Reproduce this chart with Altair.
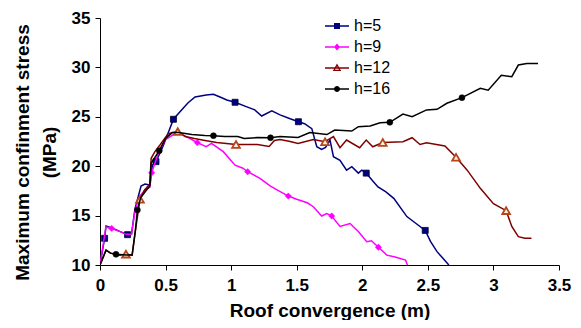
import altair as alt
import pandas as pd

series_names = ["h=5", "h=9", "h=12", "h=16"]
line_colors = ["#000080", "#FF00FF", "#800000", "#000000"]

# h=5
x5 = [0, 0.035, 0.046, 0.1, 0.15, 0.21, 0.24, 0.267, 0.313, 0.343, 0.38, 0.40, 0.427, 0.483, 0.56, 0.61, 0.67,
      0.725, 0.81, 0.865, 0.915, 0.967, 1.03, 1.12, 1.18, 1.233, 1.31, 1.373, 1.45, 1.513, 1.56, 1.615, 1.653,
      1.69, 1.72, 1.754, 1.78, 1.83, 1.88, 1.92, 1.97, 1.996, 2.03, 2.08, 2.12, 2.18, 2.24, 2.34, 2.41, 2.48,
      2.52, 2.57, 2.62, 2.66]
y5 = [10, 12.7, 13.95, 13.7, 13.4, 13.07, 13.1, 15.7, 18.0, 18.2, 18.1, 20.1, 20.46, 22.1, 24.75, 25.5, 26.4,
      27.0, 27.2, 27.28, 27.0, 26.7, 26.47, 26.0, 25.7, 25.08, 25.6, 25.2, 24.8, 24.5, 24.3, 23.8, 21.98,
      21.7, 21.9, 22.65, 20.96, 20.6, 19.6, 19.95, 19.3, 19.6, 19.3, 18.5, 17.9, 17.4, 16.75, 14.9, 14.2, 13.5,
      12.4, 11.35, 10.6, 10]
mx5 = [0.035, 0.21, 0.427, 0.56, 1.03, 1.513, 2.03, 2.48]
my5 = [12.7, 13.07, 20.46, 24.75, 26.47, 24.5, 19.3, 13.5]

# h=9
x9 = [0, 0.045, 0.089, 0.15, 0.2, 0.24, 0.267, 0.3, 0.343, 0.38, 0.394, 0.45, 0.5, 0.56, 0.61, 0.686, 0.742,
      0.81, 0.85, 0.94, 1.03, 1.09, 1.126, 1.22, 1.297, 1.35, 1.436, 1.5, 1.58, 1.627, 1.69, 1.73, 1.767,
      1.83, 1.907, 1.97, 2.034, 2.07, 2.123, 2.187, 2.25, 2.33, 2.344]
y9 = [10, 13.85, 13.7, 13.4, 13.1, 13.1, 15.5, 16.9, 17.6, 17.86, 19.34, 21.5, 22.7, 23.2, 23.3, 22.8, 22.38,
      21.97, 22.3, 21.47, 20.1, 19.8, 19.44, 18.77, 18.0, 17.6, 16.98, 16.65, 16.3, 15.9, 14.96, 15.2, 14.96,
      13.9, 14.2, 13.4, 12.36, 12.46, 11.8, 11.0, 10.8, 10.5, 10]
mx9 = [0.089, 0.394, 0.742, 1.126, 1.436, 1.767, 2.123]
my9 = [13.7, 19.34, 22.38, 19.44, 16.98, 14.96, 11.8]

# h=12
x12 = [0, 0.046, 0.08, 0.15, 0.198, 0.245, 0.27, 0.305, 0.34, 0.38, 0.39, 0.42, 0.46, 0.52, 0.593, 0.65,
       0.72, 0.8, 0.89, 1.037, 1.2, 1.29, 1.33, 1.373, 1.45, 1.51, 1.627, 1.716, 1.78, 1.83, 1.88, 1.98, 2.03,
       2.08, 2.156, 2.31, 2.38, 2.44, 2.49, 2.63, 2.715, 2.80, 2.90, 3.0, 3.097, 3.14, 3.19, 3.24, 3.29]
y12 = [10, 11.5, 11.2, 11.0, 11.1, 11.0, 13.5, 16.65, 17.6, 18.2, 20.8, 21.5, 22.2, 23.3, 23.5, 23.0,
       22.8, 22.6, 22.4, 22.2, 22.2, 22.0, 22.6, 22.7, 22.5, 22.3, 22.7, 22.48, 23.0, 21.87, 22.65, 21.87, 22.65,
       21.97, 22.4, 22.48, 22.88, 22.2, 22.38, 22.04, 20.9, 19.6, 17.76, 16.2, 15.5, 13.9, 12.87, 12.7, 12.7]
mx12 = [0.198, 0.305, 0.593, 1.037, 1.716, 2.156, 2.715, 3.097]
my12 = [11.1, 16.65, 23.5, 22.2, 22.48, 22.4, 20.9, 15.5]

# h=16
x16 = [0, 0.046, 0.08, 0.122, 0.2, 0.245, 0.27, 0.285, 0.31, 0.35, 0.38, 0.39, 0.452, 0.5, 0.55, 0.6, 0.7,
       0.8, 0.865, 0.95, 1.05, 1.1, 1.2, 1.30, 1.373, 1.51, 1.60, 1.73, 1.79, 1.92, 1.97, 2.06, 2.136, 2.21,
       2.31, 2.38, 2.49, 2.57, 2.645, 2.76, 2.9, 2.96, 3.06, 3.14, 3.19, 3.255, 3.34]
y16 = [10, 11.5, 11.2, 11.08, 11.0, 11.0, 13.5, 15.57, 16.8, 17.5, 18.0, 20.3, 21.57, 22.8, 23.4, 23.4, 23.2,
       23.1, 23.09, 23.0, 23.0, 22.8, 22.9, 22.88, 23.0, 22.9, 23.4, 23.2, 23.66, 23.56, 24.0, 24.07, 24.4, 24.44,
       25.28, 25.0, 25.7, 25.76, 26.37, 26.94, 27.88, 27.7, 29.2, 29.06, 30.24, 30.4, 30.4]
mx16 = [0.122, 0.285, 0.452, 0.865, 1.30, 2.21, 2.76]
my16 = [11.08, 15.57, 21.57, 23.09, 22.88, 24.44, 26.94]

x_ticks = [0, 0.5, 1, 1.5, 2, 2.5, 3, 3.5]
y_ticks = [10, 15, 20, 25, 30, 35]

FONT = "Liberation Sans"

xaxis = alt.Axis(values=x_ticks, format="~g", grid=False, domainColor="black", tickColor="black",
                 tickSize=5, labelFontSize=17, labelFont=FONT, labelFontWeight="bold", labelColor="black",
                 labelPadding=7, labelFlush=False, titleFontSize=19, titleFont=FONT, titleFontWeight="bold",
                 titleColor="black", titlePadding=8)
yaxis = alt.Axis(values=y_ticks, grid=False, domainColor="black", tickColor="black",
                 tickSize=5, labelFontSize=17, labelFont=FONT, labelFontWeight="bold", labelColor="black",
                 labelPadding=5, titleFontSize=19, titleFont=FONT, titleFontWeight="bold",
                 titleColor="black", titlePadding=12, titleLineHeight=27, titleY=134)

X = alt.X("x:Q", scale=alt.Scale(domain=[0, 3.5], nice=False), axis=xaxis, title="Roof convergence (m)")
Y = alt.Y("y:Q", scale=alt.Scale(domain=[10, 35], nice=False), axis=yaxis,
          title=["Maximum confinment stress", "(MPa)"])

line_data = [(x5, y5), (x9, y9), (x12, y12), (x16, y16)]
marker_data = [(mx5, my5), (mx9, my9), (mx12, my12), (mx16, my16)]
marker_styles = [
    dict(shape="square", filled=True, fill="#000080", stroke="#000030", strokeWidth=0.8, size=36),
    dict(shape="diamond", filled=True, fill="#FF00FF", stroke="#FF00FF", strokeWidth=0.5, size=40),
    dict(shape="triangle-up", filled=True, fill="#FBEFE6", stroke="#B5451B", strokeWidth=1.8, size=60),
    dict(shape="circle", filled=True, fill="#000000", stroke="#000000", strokeWidth=0.5, size=36),
]

layers = []
for (xs, ys), (mxs, mys), col, st in zip(line_data, marker_data, line_colors, marker_styles):
    df = pd.DataFrame({"x": xs, "y": ys, "i": list(range(len(xs)))})
    layers.append(alt.Chart(df).mark_line(color=col, strokeWidth=1.5, clip=True).encode(
        x=X, y=Y, order="i:Q"))
    mdf = pd.DataFrame({"x": mxs, "y": mys})
    layers.append(alt.Chart(mdf).mark_point(opacity=1, clip=True, **st).encode(x=X, y=Y))

# legend symbols: line + marker (custom paths)
rect = "M-1.2,-0.08L1.2,-0.08L1.2,0.08L-1.2,0.08Z"
legend_paths = [
    rect + "M-0.3,-0.3L0.3,-0.3L0.3,0.3L-0.3,0.3Z",
    rect + "M0,-0.35L0.3,0L0,0.35L-0.3,0Z",
    rect + "M0,-0.45L0.42,0.3L-0.42,0.3ZM0,-0.18L-0.2,0.17L0.2,0.17Z",
    rect + "M-0.3,0A0.3,0.3 0 1,1 0.3,0A0.3,0.3 0 1,1 -0.3,0Z",
]
legend_df = pd.DataFrame({"series": series_names, "x": [m[0][0] for m in marker_data],
                          "y": [m[1][0] for m in marker_data]})
leg = alt.Legend(orient="none", legendX=227, legendY=-2, title=None, labelFontSize=16, labelFont=FONT,
                 labelColor="black", symbolSize=400, symbolStrokeWidth=0, labelOffset=7, rowPadding=3,
                 padding=0, symbolOpacity=1)
layers.append(alt.Chart(legend_df).mark_point(filled=True, opacity=0, size=400).encode(
    x=X, y=Y,
    color=alt.Color("series:N", scale=alt.Scale(domain=series_names, range=line_colors), legend=leg),
    shape=alt.Shape("series:N", scale=alt.Scale(domain=series_names, range=legend_paths), legend=leg),
))

chart = alt.layer(*layers).properties(
    width=459, height=247,
    padding={"left": 92, "top": 10, "right": 14, "bottom": 55},
    autosize=alt.AutoSizeParams(type="none"),
    background="white",
).configure_view(stroke=None)

chart.save("out.html", embed_options={"renderer": "svg", "actions": False})
